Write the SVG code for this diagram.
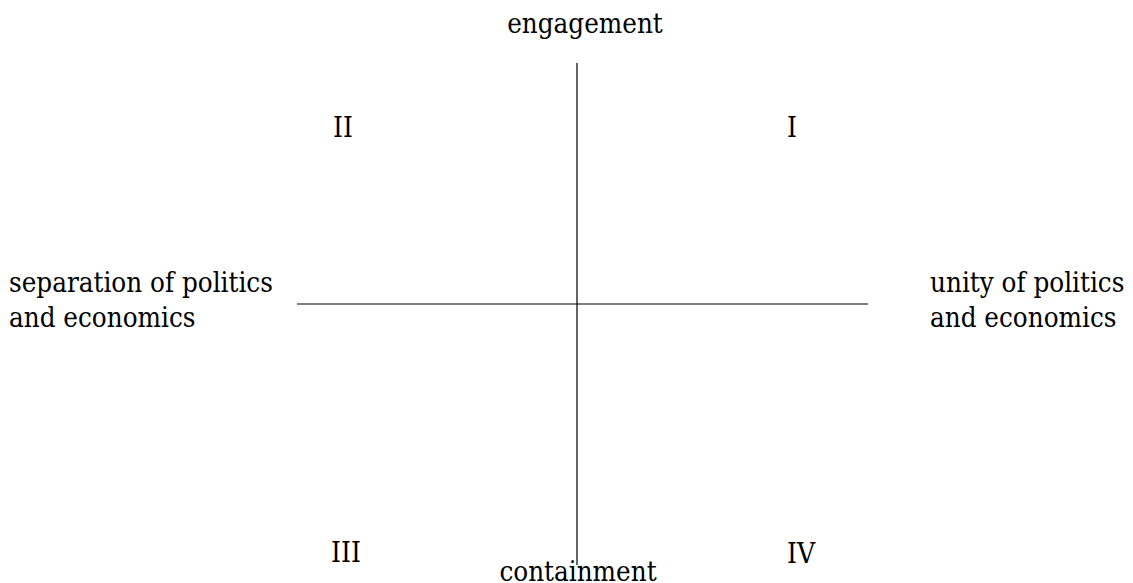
<svg xmlns="http://www.w3.org/2000/svg" width="1133" height="583" viewBox="0 0 1133 583">
<style>
text{font-family:"DejaVu Serif","Liberation Serif",serif;font-size:27.5px;font-stretch:condensed;fill:#000}
.num{font-size:28px}
.ax{stroke:#000;stroke-width:1.2;fill:none}
</style>
<rect width="1133" height="583" fill="#fff"/>
<g id="connectors">
<line class="ax" x1="577" y1="63" x2="577" y2="565"/>
<line class="ax" x1="297" y1="304" x2="868" y2="304"/>
</g>
<g id="engagement"><text x="585" y="33" text-anchor="middle">engagement</text></g>
<g id="containment"><text x="578" y="581" text-anchor="middle">containment</text></g>
<g id="separation"><text x="9" y="292">separation of politics</text><text x="9" y="327">and economics</text></g>
<g id="unity"><text x="930" y="292">unity of politics</text><text x="930" y="327">and economics</text></g>
<g id="q2"><text class="num" x="333" y="137">II</text></g>
<g id="q1"><text class="num" x="787" y="137">I</text></g>
<g id="q3"><text class="num" x="331" y="562">III</text></g>
<g id="q4"><text class="num" x="787" y="563">IV</text></g>
</svg>
